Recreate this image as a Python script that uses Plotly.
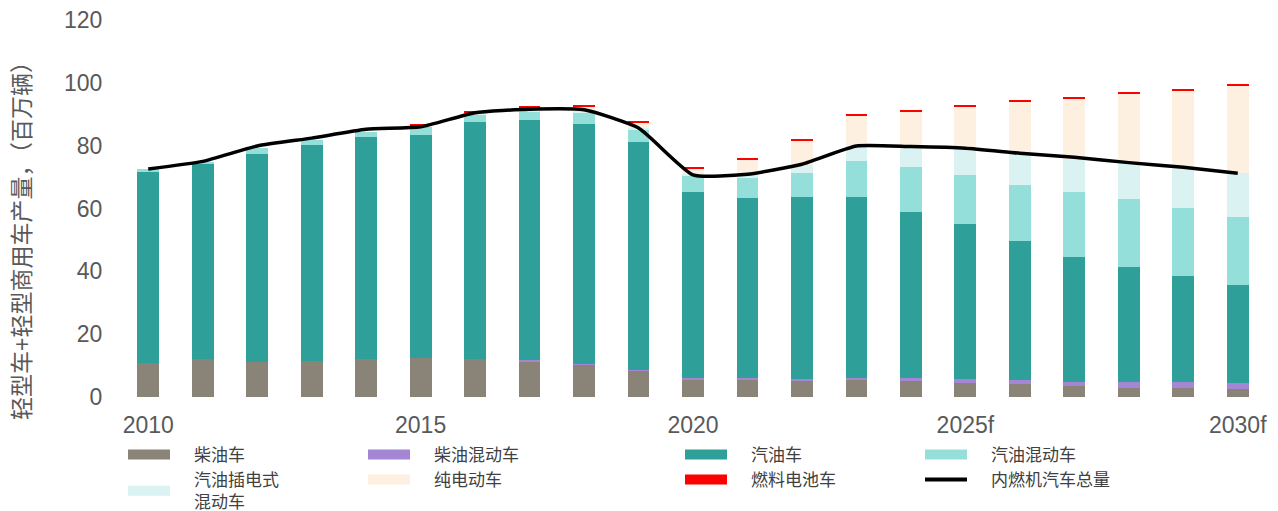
import plotly.graph_objects as go

# years on the x axis; 2025-2030 are forecasts
years = list(range(2010, 2031))
tick_vals = [2010, 2015, 2020, 2025, 2030]
tick_text = ["2010", "2015", "2020", "2025f", "2030f"]

# segment sizes, millions of vehicles
diesel = [10.7, 12.0, 11.3, 11.6, 12.0, 12.4, 12.1, 11.3, 10.2, 8.3, 5.6,
          5.6, 5.1, 5.4, 5.1, 4.6, 4.1, 3.5, 3.0, 3.0, 2.5]
diesel_hybrid = [0, 0, 0, 0, 0, 0, 0.1, 0.5, 0.2, 0.3, 0.3,
                 0.3, 0.6, 0.8, 1.1, 1.1, 1.3, 1.4, 1.9, 1.9, 1.8]
gasoline = [60.8, 62.1, 66.2, 68.5, 70.7, 71.0, 75.2, 76.4, 76.5, 72.5, 59.4,
            57.3, 58.1, 57.6, 52.7, 49.4, 44.1, 39.6, 36.4, 33.6, 31.4]
gasoline_hybrid = [1.1, 0.8, 1.7, 1.7, 1.8, 2.7, 2.4, 2.7, 3.7, 3.9, 4.9,
                   6.4, 7.4, 11.4, 14.2, 15.6, 18.0, 20.7, 21.6, 21.6, 21.7]
phev = [0, 0, 0, 0, 0, 0.1, 0.3, 0.5, 0.6, 0.6, 0.8,
        1.0, 2.6, 4.7, 6.4, 8.2, 9.9, 10.6, 11.3, 12.7, 13.8]
bev = [0, 0, 0, 0, 0, 0.2, 0.5, 0.9, 1.2, 1.8, 1.6,
       4.9, 8.0, 9.6, 11.4, 13.6, 16.6, 19.1, 22.3, 24.9, 27.9]
fcev = [0, 0, 0, 0, 0, 0.4, 0.5, 0.4, 0.4, 0.4, 0.4,
        0.4, 0.4, 0.5, 0.4, 0.4, 0.4, 0.4, 0.4, 0.4, 0.5]
ice_total = [72.6, 75.0, 79.9, 82.4, 85.2, 86.0, 90.5, 91.6, 91.4, 85.6, 70.7,
             70.9, 74.1, 79.9, 79.7, 79.2, 77.6, 76.3, 74.6, 73.1, 71.2]

FONT = "Liberation Sans, Arial, Noto Sans CJK SC"
GREY = "#595959"
PAD = "\u00a0" * 4  # gap between swatch and legend text

bar_series = [
    ("柴油车", diesel, "#8a8378", "legend"),
    ("柴油混动车", diesel_hybrid, "#a586d4", "legend2"),
    ("汽油车", gasoline, "#2e9f99", "legend3"),
    ("汽油混动车", gasoline_hybrid, "#95dfda", "legend4"),
    ("汽油插电式<br>" + PAD + "混动车", phev, "#daf2f1", "legend"),
    ("纯电动车", bev, "#fdf0e0", "legend2"),
    ("燃料电池车", fcev, "#ff0000", "legend3"),
]

fig = go.Figure()
for name, vals, color, leg in bar_series:
    fig.add_trace(go.Bar(
        x=years, y=vals, name=name, showlegend=False,
        marker=dict(color=color, line=dict(width=0)),
    ))

fig.add_trace(go.Scatter(
    x=years, y=ice_total, name="内燃机汽车总量", showlegend=False,
    mode="lines", line=dict(color="black", width=3.5, shape="spline", smoothing=0.5),
))

# legend swatches: wide flat blocks like the original
for name, vals, color, leg in bar_series:
    fig.add_trace(go.Scatter(
        x=[None], y=[None], name=PAD + name, legend=leg, mode="lines",
        line=dict(color=color, width=14),
    ))
fig.add_trace(go.Scatter(
    x=[None], y=[None], name=PAD + "内燃机汽车总量", legend="legend4", mode="lines",
    line=dict(color="black", width=4),
))

# the page body adds an 8px margin, so the figure is 8px smaller each way
W, H = 1270, 503
ML, MR, MT, MB = 113, 13, 12, 114
plot_w = W - ML - MR
plot_h = H - MT - MB


def leg_x(px):
    # px measured in the screenshot
    return (px - 8 - ML) / plot_w


leg_style = dict(orientation="v", xanchor="left", yanchor="top", y=-0.106,
                 traceorder="normal",
                 font=dict(family=FONT, size=17, color="#404040"),
                 bgcolor="rgba(0,0,0,0)", tracegroupgap=0, itemwidth=42)

fig.update_layout(
    width=W, height=H,
    margin=dict(l=ML, r=MR, t=MT, b=MB, autoexpand=False),
    barmode="stack", bargap=0.6,
    plot_bgcolor="white", paper_bgcolor="white",
    font=dict(family=FONT, color=GREY),
    legend=dict(x=leg_x(123), **leg_style),
    legend2=dict(x=leg_x(363), **leg_style),
    legend3=dict(x=leg_x(680), **leg_style),
    legend4=dict(x=leg_x(920), **leg_style),
    xaxis=dict(range=[2009.5, 2030.5], tickvals=tick_vals, ticktext=tick_text,
               showgrid=False, zeroline=False, showline=False,
               ticks="outside", ticklen=7, tickcolor="white",
               ticklabeloverflow="allow",
               tickfont=dict(size=23, color=GREY)),
    yaxis=dict(range=[0, 120], dtick=20, showgrid=False, zeroline=False, showline=False,
               ticks="outside", ticklen=13, tickcolor="white",
               ticklabeloverflow="allow",
               tickfont=dict(size=23, color=GREY)),
    annotations=[dict(
        text="轻型车+轻型商用车产量，（百万辆）", textangle=-90,
        xref="paper", yref="paper", x=(22 - 8 - ML) / plot_w, y=0.43,
        xanchor="center", yanchor="middle", showarrow=False,
        font=dict(family=FONT, size=23, color=GREY),
    )],
)

fig.write_html("out.html")
